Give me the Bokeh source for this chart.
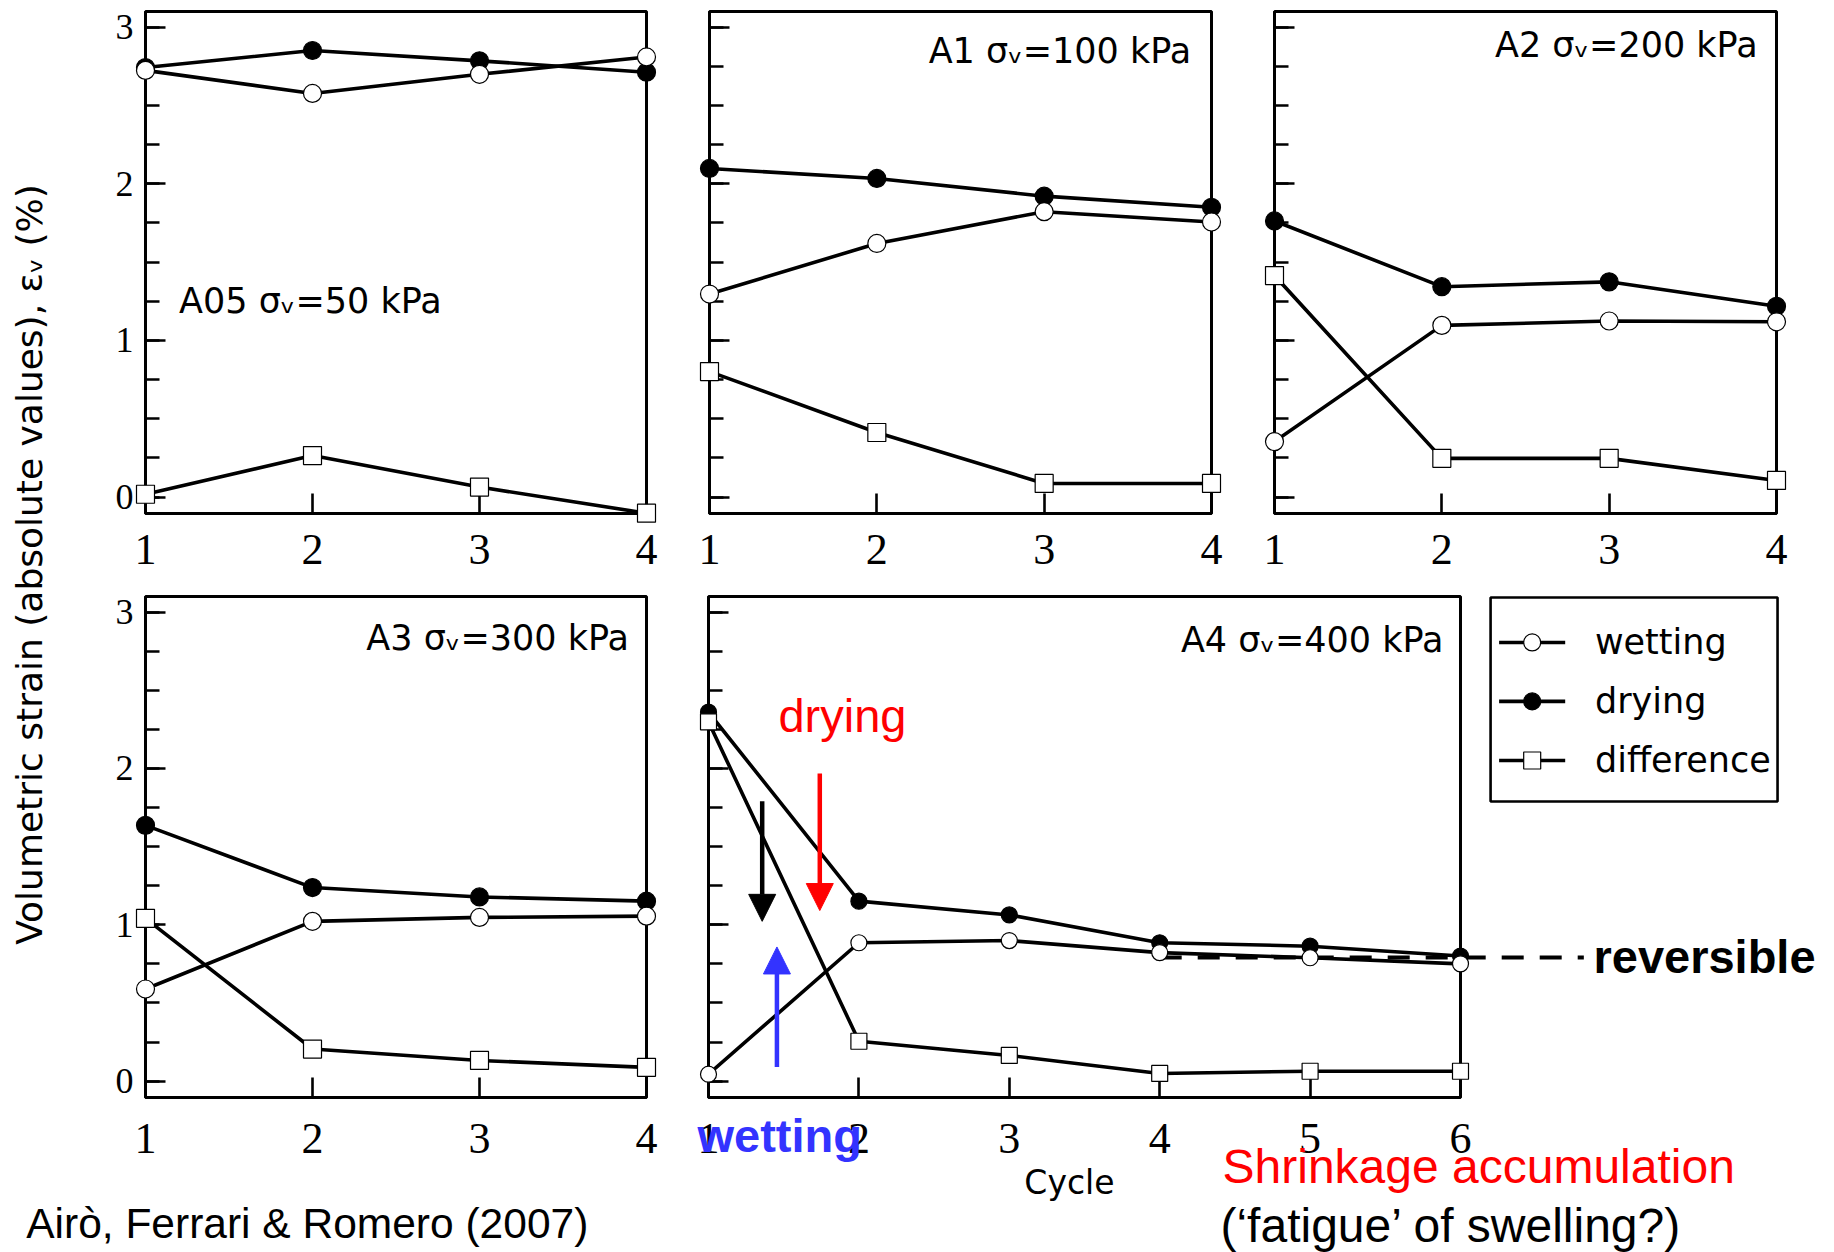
import math
from bokeh.plotting import figure
from bokeh.models import (Range1d, FixedTicker, Label, Arrow, NormalHead,
                          ColumnDataSource)
from bokeh.core.properties import value
from bokeh.layouts import row, column
from bokeh.embed import file_html
from bokeh.resources import INLINE

# ---------------- data ----------------
CYCLES_4 = [1, 2, 3, 4]
CYCLES_6 = [1, 2, 3, 4, 5, 6]

A05_WET = [2.724, 2.577, 2.699, 2.810]
A05_DRY = [2.742, 2.851, 2.785, 2.712]
A05_DIFF = [0.018, 0.265, 0.064, -0.103]

A1_WET = [1.296, 1.619, 1.822, 1.756]
A1_DRY = [2.098, 2.034, 1.921, 1.850]
A1_DIFF = [0.801, 0.412, 0.087, 0.087]

A2_WET = [0.354, 1.096, 1.124, 1.119]
A2_DRY = [1.763, 1.343, 1.374, 1.218]
A2_DIFF = [1.414, 0.247, 0.247, 0.106]

A3_WET = [0.589, 1.022, 1.047, 1.055]
A3_DRY = [1.636, 1.238, 1.178, 1.151]
A3_DIFF = [1.041, 0.205, 0.132, 0.088]

A4_WET = [0.044, 0.885, 0.899, 0.822, 0.789, 0.750]
A4_DRY = [2.360, 1.151, 1.063, 0.885, 0.863, 0.800]
A4_DIFF = [2.298, 0.255, 0.164, 0.049, 0.063, 0.063]

REVERSIBLE_LEVEL = 0.79
REVERSIBLE_X = [4, 6.82]
Y_TICKS = [0, 1, 2, 3]
Y_MINOR = [0.25 * i for i in range(13)]
Y_RANGE = (-0.105, 3.10)

TITLE_A05 = "A05 σᵥ=50 kPa"
TITLE_A1 = "A1 σᵥ=100 kPa"
TITLE_A2 = "A2 σᵥ=200 kPa"
TITLE_A3 = "A3 σᵥ=300 kPa"
TITLE_A4 = "A4 σᵥ=400 kPa"
Y_TITLE = "Volumetric strain (absolute values), εᵥ (%)"
X_TITLE = "Cycle"
SERIES = ["wetting", "drying", "difference"]
SERIES_MARKER = {"wetting": ("circle", "white"), "drying": ("circle", "black"),
                 "difference": ("square", "white")}

BLUE = "#3333ff"
RED = "#ff0000"
LW = 3.6


def panel(width, height, borders, x_end, ylabels, standoff):
    L, R, T, B = borders
    p = figure(width=width, height=height, x_range=Range1d(1, x_end),
               y_range=Range1d(*Y_RANGE), output_backend="svg", title=None,
               toolbar_location=None, min_border_left=L, min_border_right=R,
               min_border_top=T, min_border_bottom=B)
    p.grid.visible = False
    p.outline_line_color = "black"
    p.outline_line_width = 3
    p.outline_line_alpha = 1
    p.background_fill_color = "white"
    p.border_fill_color = "white"
    xa = p.xaxis[0]
    ya = p.yaxis[0]
    xa.ticker = FixedTicker(ticks=list(range(1, x_end + 1)))
    ya.ticker = FixedTicker(ticks=Y_TICKS, minor_ticks=Y_MINOR)
    for ax in (xa, ya):
        ax.axis_line_width = 3
        ax.axis_line_color = "black"
        ax.major_tick_line_width = 2.6
        ax.minor_tick_line_width = 2.6
        ax.major_tick_line_color = "black"
        ax.minor_tick_line_color = "black"
        ax.major_tick_in = 20
        ax.major_tick_out = 0
        ax.minor_tick_in = 14
        ax.minor_tick_out = 0
        ax.major_label_text_font = "Liberation Serif"
        ax.major_label_text_color = "black"
        ax.major_label_text_line_height = 1.0
    xa.minor_tick_line_color = None
    xa.major_label_text_font_size = "44px"
    xa.major_label_standoff = standoff
    ya.major_label_standoff = 12
    ya.major_label_text_font_size = "36px"
    if not ylabels:
        ya.major_label_text_color = None
    return p


def draw(p, x, wet, dry, diff, size):
    vals = {"wetting": wet, "drying": dry, "difference": diff}
    srcs = {k: ColumnDataSource(dict(x=x, y=vals[k])) for k in vals}
    for k in ("drying", "wetting", "difference"):
        p.line("x", "y", source=srcs[k], line_color="black", line_width=LW)
    for k in ("drying", "wetting", "difference"):
        marker, fill = SERIES_MARKER[k]
        p.scatter("x", "y", source=srcs[k], marker=marker, size=size,
                  fill_color=fill, line_color="black", line_width=1.2,
                  level="overlay")


def title(p, x, y, text, align):
    p.add_layout(Label(x=x, y=y, text=text, text_font="DejaVu Sans",
                       text_font_size="35px", text_align=align,
                       text_baseline="middle", text_color="black"))


def otext(p, x, y, text, size, color="black", font="Liberation Sans",
          style="normal", align="left"):
    # text drawn as an overlay glyph so that it may sit outside the frame
    p.text(x=[x], y=[y], text=[text], text_font=value(font), text_font_size=size,
           text_font_style=style, text_color=color, text_align=align,
           text_baseline="middle", level="overlay")


# ---------------- panels ----------------
p1 = panel(617, 592, (84, 31, 11, 79), 4, True, 21)
draw(p1, CYCLES_4, A05_WET, A05_DRY, A05_DIFF, 18)
title(p1, 1.201, 1.249, TITLE_A05, "left")

p2 = panel(565, 592, (32, 31, 11, 79), 4, False, 21)
draw(p2, CYCLES_4, A1_WET, A1_DRY, A1_DIFF, 18)
title(p2, 3.879, 2.845, TITLE_A1, "right")

p3 = panel(592, 592, (32, 58, 11, 79), 4, False, 21)
draw(p3, CYCLES_4, A2_WET, A2_DRY, A2_DIFF, 18)
title(p3, 3.887, 2.887, TITLE_A2, "right")

p4 = panel(617, 595, (85, 30, 4, 90), 4, True, 26)
draw(p4, CYCLES_4, A3_WET, A3_DRY, A3_DIFF, 18)
title(p4, 3.895, 2.834, TITLE_A3, "right")

p5 = panel(1157, 660, (31, 374, 4, 155), 6, False, 26)

# reversible level (dashed), under the markers
p5.line(x=REVERSIBLE_X, y=[REVERSIBLE_LEVEL] * 2, line_color="black", line_width=4,
        line_dash="22 16", level="overlay")
draw(p5, CYCLES_6, A4_WET, A4_DRY, A4_DIFF, 16)
title(p5, 5.887, 2.819, TITLE_A4, "right")

# arrows
for xs, ys0, ys1, c in ((1.740, 1.968, 1.091, RED),
                        (1.357, 1.790, 1.022, "black"),
                        (1.455, 0.090, 0.858, BLUE)):
    p5.add_layout(Arrow(end=NormalHead(size=27, fill_color=c, line_color=c, line_width=1),
                        x_start=xs, y_start=ys0, x_end=xs, y_end=ys1,
                        line_color=c, line_width=4.5))

p5.add_layout(Label(x=1.465, y=2.336, text="drying", text_font="Liberation Sans",
                    text_font_size="47px", text_color=RED, text_baseline="middle"))

otext(p5, 6.884, 0.797, "reversible", "47px", style="bold")
otext(p5, 0.927, -0.345, "wetting", "47px", color=BLUE, style="bold")
otext(p5, 3.40, -0.649, X_TITLE, "33px", font="DejaVu Sans", align="center")
otext(p5, 4.418, -0.548, "Shrinkage accumulation", "48px", color=RED)
otext(p5, 4.404, -0.921, "(‘fatigue’ of swelling?)", "48px")

# legend (drawn with overlay glyphs, outside the A4 frame)
LEG_BOX = dict(left=6.20, right=8.108, top=3.094, bottom=1.789)
LEG_ROWS = [2.806, 2.429, 2.051]
LEG_LINE = (6.2566, 6.6961)
LEG_MARK_X = 6.4767
LEG_TEXT_X = 6.894
LEG_MARK_PX = 17
XPX = 150.4   # pixels per x unit in the A4 panel
YPX = 156.3   # pixels per y unit
p5.quad(left=[LEG_BOX["left"]], right=[LEG_BOX["right"]], top=[LEG_BOX["top"]],
        bottom=[LEG_BOX["bottom"]], fill_color="white", line_color="black",
        line_width=2.6, level="overlay")
for s, yc in zip(SERIES, LEG_ROWS):
    marker, fill = SERIES_MARKER[s]
    p5.segment(x0=[LEG_LINE[0]], x1=[LEG_LINE[1]], y0=[yc], y1=[yc],
               line_color="black", line_width=LW, level="overlay")
    if marker == "circle":
        p5.ellipse(x=[LEG_MARK_X], y=[yc], width=LEG_MARK_PX, height=LEG_MARK_PX,
                   width_units="screen", height_units="screen", fill_color=fill,
                   line_color="black", line_width=1.2, level="overlay")
    else:
        hx = LEG_MARK_PX / 2 / XPX
        hy = LEG_MARK_PX / 2 / YPX
        p5.quad(left=[LEG_MARK_X - hx], right=[LEG_MARK_X + hx], top=[yc + hy],
                bottom=[yc - hy], fill_color=fill, line_color="black",
                line_width=1.2, level="overlay")
    otext(p5, LEG_TEXT_X, yc, s, "35px", font="DejaVu Sans")

# y-axis title strip
pt = figure(width=60, height=1187, x_range=Range1d(0, 60), y_range=Range1d(0, 1187),
            output_backend="svg", toolbar_location=None, x_axis_type=None,
            y_axis_type=None, min_border=0, title=None)
pt.grid.visible = False
pt.outline_line_color = None
pt.add_layout(Label(x=29, y=623, text=Y_TITLE, angle=math.pi / 2, text_align="center",
                    text_baseline="middle", text_font="DejaVu Sans",
                    text_font_size="36px", text_color="black"))

# citation strip
pc = figure(width=677, height=65, x_range=Range1d(0, 677), y_range=Range1d(0, 65),
            output_backend="svg", toolbar_location=None, x_axis_type=None,
            y_axis_type=None, min_border=0, title=None)
pc.grid.visible = False
pc.outline_line_color = None
pc.add_layout(Label(x=25.7, y=29, text="Airò, Ferrari & Romero (2007)",
                    text_font="Liberation Sans", text_font_size="42.5px",
                    text_baseline="middle", text_color="black"))

left_col = column(row(pt, column(p1, p4, spacing=0), spacing=0), pc, spacing=0)
right_col = column(row(p2, p3, spacing=0), p5, spacing=0)
layout = row(left_col, right_col, spacing=0)

open("out.html", "w").write(file_html(layout, INLINE))
